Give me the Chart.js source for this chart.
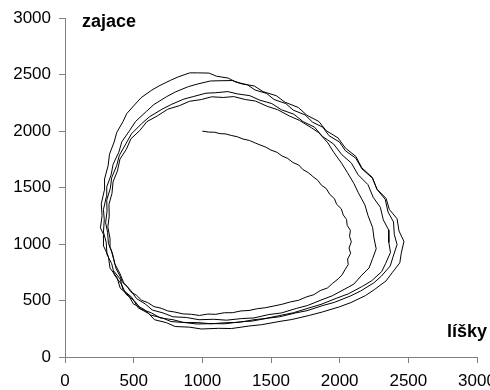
<!DOCTYPE html>
<html>
<head>
<meta charset="utf-8">
<script src="https://cdn.jsdelivr.net/npm/chart.js@4.4.0/dist/chart.umd.min.js"></script>
<style>
    html, body { margin: 0; padding: 0; background: #fff; }
    canvas { display: block; }
</style>
</head>
<body>
<canvas id="phaseChart" width="490" height="390"></canvas>
<script>
// simulated population path, [líšky, zajace] pairs, one array per cycle
const startPath = [
    [1000,2000],[1045,1992],[1090,1990],[1128,1978],[1172,1975],[1210,1962],[1255,1950],[1296,1930],[1342,1918],[1385,1895],
    [1420,1878],[1462,1858],[1500,1832],[1545,1812],[1580,1780],[1622,1758],[1660,1722],[1702,1700],[1732,1660],[1772,1632],
    [1805,1598],[1840,1565],[1868,1520],[1902,1492],[1928,1440],[1962,1402],[1978,1352],[2012,1312],[2026,1258],[2050,1218],
    [2055,1165],[2078,1122],[2072,1068],[2085,1020],[2068,965],[2080,918],[2058,868],[2062,818],[2040,776],[2018,728],
    [1990,692],[1948,652],[1912,612],[1858,588],[1812,552],[1758,532],[1700,502],[1642,488],[1578,466],[1522,452],
    [1458,436],[1402,428],[1340,412],[1282,408],[1218,392],[1160,392],[1098,378],[1040,380],[978,368],[920,378],
    [858,382],[800,398],[748,408],[700,432],[648,446],[602,482],[558,502],[522,545],[478,578],[452,625],
    [418,662],[402,712]
];

const cycle1 = [
    [372,782],[355,866],[332,962],[328,1048],[312,1152],[322,1248],[320,1352],[342,1448],[350,1552],[382,1648],
    [400,1752],[446,1838],[480,1932],[545,2006],[596,2084],[674,2136],[748,2194],[834,2226],[906,2264],[994,2280],
    [1068,2304],[1152,2298],[1228,2306],[1312,2280],[1388,2266],[1472,2220],[1548,2190],[1634,2134],[1706,2096],[1794,2030],
    [1848,1986],[1914,1896],[1956,1814],[2014,1716],[2056,1634],[2104,1536],[2136,1454],[2184,1346],[2206,1254],[2240,1146],
    [2250,1052],[2266,958],[2240,872],[2214,788],[2156,718],[2104,646],[2032,598],[1946,542],[1864,504],[1766,456],
    [1684,430],[1576,390],[1484,376],[1376,346],[1284,340],[1176,326],[1084,334],[976,330],[884,350],[786,356],
    [714,390],[636,416],[584,470],[522,516],[478,590],[428,656],[398,744],[362,826],[344,924],[316,1006],
    [310,1104],[296,1188]
];

const cycle2 = [
    [306,1292],[304,1388],[330,1494],[340,1588],[376,1694],[396,1786],[446,1894],[484,1976],[556,2064],[614,2126],
    [706,2194],[774,2236],[866,2284],[934,2306],[1026,2336],[1094,2340],[1186,2350],[1254,2330],[1346,2314],[1414,2276],
    [1506,2244],[1574,2190],[1666,2150],[1734,2084],[1816,2036],[1874,1954],[1956,1886],[2014,1794],[2086,1716],[2134,1614],
    [2206,1526],[2244,1414],[2296,1326],[2318,1214],[2356,1126],[2358,1014],[2370,926],[2334,826],[2306,756],[2234,676],
    [2166,626],[2064,560],[1976,520],[1864,466],[1776,434],[1664,392],[1576,370],[1464,342],[1376,330],[1264,306],
    [1176,304],[1064,294],[976,304],[864,306],[786,330],[694,346],[630,390],[554,426],[506,496],[444,556],
    [410,646],[360,726],[340,826],[306,906],[300,1016],[280,1106],[286,1214]
];

const cycle3 = [
    [280,1306],[300,1414],[304,1506],[336,1614],[350,1706],[392,1814],[414,1906],[472,2008],[514,2086],[592,2174],
    [648,2236],[738,2304],[802,2346],[898,2394],[962,2416],[1058,2444],[1122,2446],[1218,2448],[1282,2420],[1378,2400],
    [1442,2350],[1538,2314],[1602,2256],[1698,2210],[1762,2140],[1848,2086],[1902,2004],[1988,1940],[2042,1850],[2118,1776],
    [2162,1674],[2238,1590],[2272,1484],[2332,1396],[2352,1284],[2392,1196],[2398,1084],[2418,996],[2388,884],[2368,806],
    [2302,714],[2248,656],[2152,584],[2078,540],[1962,484],[1878,456],[1762,410],[1678,390],[1562,356],[1478,344],
    [1362,318],[1278,312],[1162,294],[1078,296],[962,292],[878,304],[772,314],[708,346],[622,372],[572,424],
    [498,470],[462,546],[402,610],[378,706],[328,786],[316,890],[282,980],[280,1086],[258,1144]
];

const cycle4 = [
    [270,1252],[264,1356],[286,1474],[288,1576],[314,1694],[324,1796],[358,1904],[376,1986],[422,2084],[450,2156],
    [512,2240],[554,2296],[628,2360],[684,2400],[768,2450],[824,2480],[908,2516],[964,2516],[1048,2514],[1104,2486],
    [1188,2470],[1242,2436],[1328,2410],[1384,2364],[1468,2334],[1522,2280],[1608,2244],[1662,2186],[1748,2144],[1802,2080],
    [1878,2034],[1922,1960],[1998,1904],[2042,1826],[2118,1760],[2162,1666],[2238,1584],[2272,1486],[2338,1404],[2362,1306],
    [2418,1224],[2432,1116],[2468,1024],[2448,916],[2438,834],[2382,746],[2338,674],[2252,596],[2188,544],[2082,482],
    [1998,444],[1872,398],[1778,368],[1652,332],[1558,314],[1432,286],[1338,274],[1212,252],[1118,254],[992,248],
    [908,264],[802,270],[738,304],[652,330],[608,386],[532,436],[488,526],[422,596],[402,690],[356,760]
];

const axisMin = 0;
const axisMax = 3000;
const axisStep = 500;
const xTitle = 'líšky';
const yTitle = 'zajace';

const trajectory = [...startPath, ...cycle1, ...cycle2, ...cycle3, ...cycle4]
    .map(([x, y]) => ({ x: x, y: y }));

const axisGray = '#808080';
const tickFont = { family: '"Liberation Sans", Arial, sans-serif', size: 17 };

// bold axis names placed inside the plot corners
const axisNames = {
    id: 'axisNames',
    afterDraw(chart) {
        const c = chart.ctx;
        const area = chart.chartArea;
        c.save();
        c.fillStyle = '#000';
        c.font = 'bold 18px "Liberation Sans", Arial, sans-serif';
        c.textBaseline = 'alphabetic';
        c.textAlign = 'left';
        c.fillText(yTitle, area.left + 17, area.top + 9);
        c.textAlign = 'right';
        c.fillText(xTitle, chart.width - 3, area.bottom - 20);
        c.restore();
    }
};

new Chart(document.getElementById('phaseChart'), {
    type: 'scatter',
    data: {
        datasets: [{
            data: trajectory,
            showLine: true,
            borderColor: '#000',
            borderWidth: 1,
            pointRadius: 0,
            tension: 0,
            fill: false
        }]
    },
    options: {
        responsive: false,
        animation: false,
        layout: { padding: { top: 18, right: 13, left: 0, bottom: 0 } },
        plugins: {
            legend: { display: false },
            tooltip: { enabled: false }
        },
        scales: {
            x: {
                type: 'linear',
                min: axisMin,
                max: axisMax,
                ticks: {
                    stepSize: axisStep, color: '#000', font: tickFont, padding: 8, maxRotation: 0,
                    callback: (value) => String(value)
                },
                grid: { drawOnChartArea: false, drawTicks: true, tickLength: 6, color: axisGray },
                border: { color: axisGray, width: 1 },
                afterFit: (scale) => { scale.height = 33; scale.paddingRight = 0; }
            },
            y: {
                type: 'linear',
                min: axisMin,
                max: axisMax,
                ticks: {
                    stepSize: axisStep, color: '#000', font: tickFont, padding: 8,
                    callback: (value) => String(value)
                },
                grid: { drawOnChartArea: false, drawTicks: true, tickLength: 6, color: axisGray },
                border: { color: axisGray, width: 1 },
                afterFit: (scale) => { scale.width = 65; }
            }
        }
    },
    plugins: [axisNames]
});
</script>
</body>
</html>
